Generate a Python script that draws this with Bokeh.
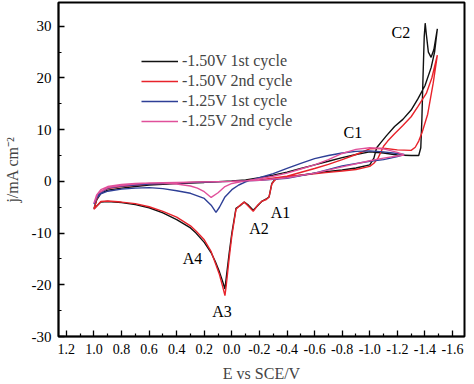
from bokeh.plotting import figure
from bokeh.models import Range1d, FixedTicker, Legend, LegendItem, ColumnDataSource, PrintfTickFormatter
from bokeh.embed import file_html
from bokeh.resources import INLINE
from bokeh.core.properties import value

# ---------------- data (E in V vs SCE, j in mA cm^-2), ordered along the scan ----------------
# -1.50V 1st cycle
e_150_1 = [1.0, 0.98, 0.95, 0.9, 0.8, 0.7, 0.6, 0.4, 0.2, 0.0, -0.1, -0.2, -0.3, -0.4, -0.5, -0.6,
           -0.7, -0.8, -0.9, -1.0, -1.1, -1.2, -1.3, -1.355, -1.37, -1.378, -1.386, -1.395, -1.402,
           -1.41, -1.425, -1.445, -1.465, -1.49,
           -1.47, -1.445, -1.40, -1.35, -1.30, -1.24, -1.18, -1.12, -1.08, -1.05, -1.03, -1.0, -0.9,
           -0.8, -0.7, -0.6, -0.5, -0.4, -0.34, -0.31, -0.29, -0.27, -0.25, -0.22, -0.19, -0.155,
           -0.12, -0.09, -0.06, -0.03, 0.0, 0.02, 0.04, 0.05, 0.065, 0.09, 0.12, 0.15, 0.2, 0.26,
           0.3, 0.4, 0.5, 0.6, 0.7, 0.8, 0.9, 0.95, 1.0]
j_150_1 = [-5.3, -3.6, -2.3, -1.7, -1.3, -1.0, -0.7, -0.4, -0.2, 0.1, 0.3, 0.7, 1.2, 1.8, 2.5, 3.2,
           3.9, 4.6, 5.2, 5.7, 5.5, 5.1, 5.0, 5.0, 6.5, 12.0, 20.0, 28.0, 30.6,
           28.5, 25.0, 24.0, 25.5, 29.5,
           25.0, 22.0, 18.5, 16.0, 13.8, 12.0, 10.6, 8.8, 7.5, 6.5, 4.5, 3.2, 2.6,
           2.2, 1.9, 1.6, 1.2, 0.8, 0.6, 0.3, -0.4, -3.0, -3.4, -3.8, -4.6, -5.6,
           -4.6, -4.0, -4.7, -5.2, -10.0, -14.0, -18.5, -20.8, -19.5, -17.5, -15.5, -13.8, -11.8, -10.0,
           -9.0, -7.4, -6.1, -5.1, -4.5, -4.1, -3.9, -4.0, -5.3]

# -1.50V 2nd cycle
e_150_2 = [1.0, 0.98, 0.95, 0.9, 0.8, 0.6, 0.4, 0.2, 0.0, -0.2, -0.4, -0.6, -0.7, -0.8, -0.9,
           -1.0, -1.1, -1.2, -1.3, -1.33, -1.355, -1.38, -1.42, -1.46, -1.49,
           -1.45, -1.41, -1.35, -1.30, -1.24, -1.18, -1.13, -1.10, -1.06, -1.03, -1.0, -0.9, -0.8,
           -0.68, -0.5, -0.4, -0.33, -0.31, -0.29, -0.27, -0.25, -0.22, -0.19, -0.155, -0.12, -0.09,
           -0.06, -0.03, 0.0, 0.02, 0.04, 0.05, 0.065, 0.09, 0.12, 0.15, 0.2, 0.26, 0.3, 0.4, 0.5,
           0.6, 0.7, 0.8, 0.9, 0.95, 1.0]
j_150_2 = [-5.4, -3.4, -2.0, -1.4, -1.0, -0.5, -0.3, -0.1, 0.0, 0.3, 1.0, 2.5, 3.3, 4.2, 5.2,
           6.3, 6.4, 6.1, 6.0, 6.6, 7.8, 9.5, 13.0, 19.0, 24.4,
           20.0, 17.0, 14.5, 12.5, 10.8, 9.2, 7.8, 6.8, 4.5, 3.5, 2.9, 2.3, 2.0,
           1.7, 1.2, 0.9, 0.6, 0.2, -0.5, -3.0, -3.5, -3.8, -4.5, -5.8, -4.8, -4.0,
           -4.6, -5.4, -10.5, -15.0, -20.0, -22.1, -20.5, -18.0, -15.8, -13.6, -11.3, -9.6, -8.6,
           -6.9, -5.8, -4.9, -4.3, -4.0, -3.8, -3.9, -5.4]

# -1.25V 1st cycle
e_125_1 = [1.0, 0.97, 0.9, 0.8, 0.6, 0.4, 0.2, 0.0, -0.2, -0.4, -0.6, -0.8, -1.0, -1.1, -1.2, -1.25,
           -1.2, -1.1, -1.0, -0.9, -0.8, -0.7, -0.6, -0.5, -0.4, -0.3, -0.2, -0.1, -0.05, 0.0,
           0.05, 0.09, 0.115, 0.15, 0.2, 0.3, 0.4, 0.5, 0.6, 0.7, 0.8, 0.9, 0.95, 0.98, 1.0]
j_125_1 = [-4.4, -2.5, -1.3, -0.9, -0.5, -0.3, -0.15, 0.0, 0.2, 0.6, 1.6, 3.0, 3.9, 4.2, 4.8, 5.2,
           5.4, 5.7, 5.9, 5.8, 5.5, 5.0, 4.4, 3.5, 2.5, 1.5, 0.7, -0.1, -0.7, -1.6,
           -3.0, -5.0, -6.0, -4.6, -3.3, -2.3, -1.8, -1.4, -1.2, -1.3, -1.5, -1.9, -2.4, -3.2, -4.4]

# -1.25V 2nd cycle
e_125_2 = [1.0, 0.97, 0.9, 0.8, 0.7, 0.6, 0.4, 0.2, 0.0, -0.2, -0.4, -0.6, -0.8, -1.0, -1.1, -1.2,
           -1.25, -1.2, -1.1, -1.0, -0.9, -0.8, -0.7, -0.6, -0.5, -0.4, -0.3, -0.2, -0.1, 0.0, 0.05,
           0.1, 0.15, 0.2, 0.25, 0.3, 0.4, 0.5, 0.6, 0.7, 0.8, 0.9, 0.95, 0.98, 1.0]
j_125_2 = [-4.2, -2.3, -1.2, -0.8, -0.5, -0.3, -0.2, -0.1, 0.0, 0.2, 0.7, 1.6, 2.8, 4.0, 4.5, 4.9,
           5.1, 5.6, 6.3, 6.5, 6.2, 5.4, 4.2, 3.2, 2.4, 1.6, 1.0, 0.5, 0.1, -0.4, -1.0,
           -2.2, -3.1, -2.0, -1.3, -0.9, -0.5, -0.3, -0.3, -0.4, -0.6, -1.0, -1.6, -2.6, -4.2]

series_names = ["-1.50V 1st cycle", "-1.50V 2nd cycle", "-1.25V 1st cycle", "-1.25V 2nd cycle"]
series_e = [e_150_1, e_150_2, e_125_1, e_125_2]
series_j = [j_150_1, j_150_2, j_125_1, j_125_2]
series_colors = ["#111111", "#e8232b", "#2e3f96", "#e0509a"]

peak_labels = ["C2", "C1", "A1", "A2", "A3", "A4"]
peak_e = [-1.226, -0.878, -0.353, -0.197, 0.072, 0.285]
peak_j = [28.8, 9.4, -6.0, -9.2, -25.2, -15.0]

x_major = [1.2, 1.0, 0.8, 0.6, 0.4, 0.2, 0.0, -0.2, -0.4, -0.6, -0.8, -1.0, -1.2, -1.4, -1.6]
x_minor = [1.1, 0.9, 0.7, 0.5, 0.3, 0.1, -0.1, -0.3, -0.5, -0.7, -0.9, -1.1, -1.3, -1.5]
y_major = [-30, -20, -10, 0, 10, 20, 30]
y_minor = [-25, -15, -5, 5, 15, 25]

FONT = "Liberation Serif"

p = figure(width=466, height=384, output_backend="svg", toolbar_location=None,
           x_range=Range1d(1.257, -1.687), y_range=Range1d(-30, 34.6),
           min_border_left=49, min_border_right=2, min_border_top=2, min_border_bottom=46)
p.xgrid.visible = False
p.ygrid.visible = False
p.outline_line_color = "black"
p.outline_line_width = 2

renderers = []
for e, j, c in zip(series_e, series_j, series_colors):
    r = p.line(e, j, line_color=c, line_width=1.4)
    renderers.append(r)

src = ColumnDataSource(dict(x=peak_e, y=peak_j, t=peak_labels))
p.text(x="x", y="y", text="t", source=src, text_font=value(FONT), text_font_size="16px",
       text_align="center", text_baseline="middle", text_color="black")

for ax in (p.xaxis[0], p.yaxis[0]):
    ax.axis_line_width = 1.5
    ax.major_tick_in = 6
    ax.major_tick_out = 0
    ax.minor_tick_in = 3
    ax.minor_tick_out = 0
    ax.major_tick_line_width = 1.3
    ax.minor_tick_line_width = 1.2
    ax.major_label_text_font = FONT
    ax.axis_label_text_font = FONT
    ax.axis_label_text_font_style = "normal"
    ax.axis_label_text_font_size = "16px"
    ax.major_label_text_color = "black"

p.xaxis.ticker = FixedTicker(ticks=x_major, minor_ticks=x_minor)
p.yaxis.ticker = FixedTicker(ticks=y_major, minor_ticks=y_minor)
p.xaxis.formatter = PrintfTickFormatter(format="%.1f")
p.yaxis.formatter = PrintfTickFormatter(format="%d")
p.xaxis.major_label_text_font_size = "14px"
p.yaxis.major_label_text_font_size = "15px"
p.xaxis.major_label_standoff = 7
p.yaxis.major_label_standoff = 7
p.xaxis.axis_label = "E vs SCE/V"
p.yaxis.axis_label = "j/mA cm\u207b\u00b2"
p.xaxis.axis_label_standoff = 8
p.yaxis.axis_label_standoff = 8

legend = Legend(items=[LegendItem(label=n, renderers=[r]) for n, r in zip(series_names, renderers)],
                location=(83, 205))
legend.border_line_color = None
legend.background_fill_alpha = 0
legend.padding = 0
legend.margin = 0
legend.spacing = 0
legend.label_height = 20
legend.glyph_height = 20
legend.glyph_width = 37
legend.label_standoff = 4
legend.label_text_font = FONT
legend.label_text_font_size = "16px"
p.add_layout(legend)

open("out.html", "w").write(file_html(p, INLINE))
